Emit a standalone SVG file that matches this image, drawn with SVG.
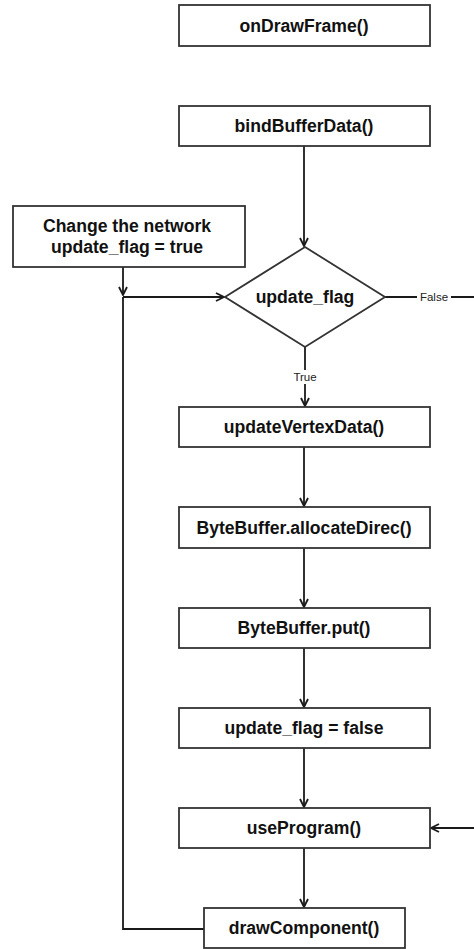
<svg xmlns="http://www.w3.org/2000/svg" width="474" height="949" viewBox="0 0 474 949">
  <defs>
    <marker id="arrow" viewBox="0 0 10 10" refX="9" refY="5" markerWidth="10" markerHeight="10" markerUnits="userSpaceOnUse" orient="auto">
      <path d="M1,1 L9,5 L1,9" fill="none" stroke="#1a1a1a" stroke-width="1.8"/>
    </marker>
  </defs>
  <style>
    .box { fill: #ffffff; stroke: #333333; stroke-width: 1.8; }
    .label { font-family: "Liberation Sans", Arial, sans-serif; font-weight: bold; font-size: 17.6px; fill: #111111; text-anchor: middle; dominant-baseline: central; }
    .edge { fill: none; stroke: #1a1a1a; stroke-width: 1.8; }
    .elabel { font-family: "Liberation Sans", Arial, sans-serif; font-size: 11.5px; fill: #222222; text-anchor: middle; dominant-baseline: central; }
  </style>
  <rect width="474" height="949" fill="#ffffff"/>

  <!-- connectors -->
  <g id="connectors">
    <path class="edge" d="M304,146 L304,246" marker-end="url(#arrow)"/>
    <path class="edge" d="M123,267 L123,295" marker-end="url(#arrow)"/>
    <path class="edge" d="M123,297 L224,297" marker-end="url(#arrow)"/>
    <path class="edge" d="M123,297 L123,929 L204,929"/>
    <path class="edge" d="M385,297 L480,297 L480,828 L431,828" marker-end="url(#arrow)"/>
    <rect x="417" y="290" width="34" height="14" fill="#ffffff"/>
    <text class="elabel" x="434" y="297">False</text>
    <path class="edge" d="M305,347 L305,406" marker-end="url(#arrow)"/>
    <rect x="290" y="370" width="30" height="14" fill="#ffffff"/>
    <text class="elabel" x="305" y="377">True</text>
    <path class="edge" d="M304,447 L304,506" marker-end="url(#arrow)"/>
    <path class="edge" d="M304,548 L304,607" marker-end="url(#arrow)"/>
    <path class="edge" d="M304,648 L304,707" marker-end="url(#arrow)"/>
    <path class="edge" d="M304,748 L304,807" marker-end="url(#arrow)"/>
    <path class="edge" d="M304,848 L304,907" marker-end="url(#arrow)"/>
  </g>

  <g id="onDrawFrame">
    <rect class="box" x="179" y="5" width="251" height="41"/>
    <text class="label" x="304" y="26">onDrawFrame()</text>
  </g>
  <g id="bindBufferData">
    <rect class="box" x="179" y="106" width="251" height="40"/>
    <text class="label" x="304" y="126">bindBufferData()</text>
  </g>
  <g id="changeNetwork">
    <rect class="box" x="13" y="206" width="232" height="61"/>
    <text class="label" x="127" y="226">Change the network</text>
    <text class="label" x="127" y="247">update_flag = true</text>
  </g>
  <g id="updateFlagDecision">
    <polygon class="box" points="305,247 385,297 305,347 225,297"/>
    <text class="label" x="305" y="297">update_flag</text>
  </g>
  <g id="updateVertexData">
    <rect class="box" x="179" y="407" width="251" height="40"/>
    <text class="label" x="304" y="427">updateVertexData()</text>
  </g>
  <g id="allocateDirect">
    <rect class="box" x="179" y="507" width="251" height="41"/>
    <text class="label" x="304" y="528">ByteBuffer.allocateDirec()</text>
  </g>
  <g id="bufferPut">
    <rect class="box" x="179" y="608" width="251" height="40"/>
    <text class="label" x="304" y="628">ByteBuffer.put()</text>
  </g>
  <g id="clearFlag">
    <rect class="box" x="179" y="708" width="251" height="40"/>
    <text class="label" x="304" y="728">update_flag = false</text>
  </g>
  <g id="useProgram">
    <rect class="box" x="179" y="808" width="251" height="40"/>
    <text class="label" x="304" y="828">useProgram()</text>
  </g>
  <g id="drawComponent">
    <rect class="box" x="204" y="908" width="201" height="40"/>
    <text class="label" x="304" y="928">drawComponent()</text>
  </g>
</svg>
